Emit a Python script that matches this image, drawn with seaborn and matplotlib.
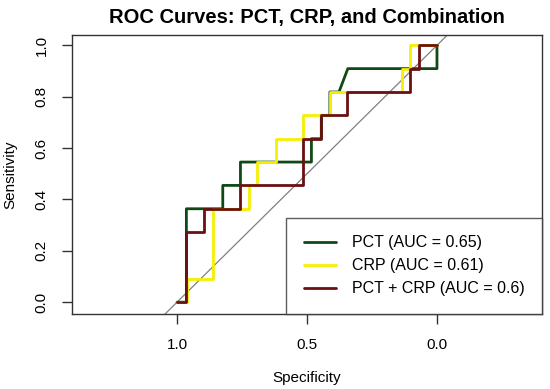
import numpy as np
import pandas as pd
import matplotlib
matplotlib.use("Agg")
import matplotlib.pyplot as plt
import seaborn as sns

# ROC coordinates (specificity, sensitivity in elevenths)
pct_spec = [1.0, 0.964, 0.964, 0.824, 0.824, 0.756, 0.756, 0.483, 0.483, 0.445, 0.445,
            0.412, 0.412, 0.377, 0.343, 0.0, 0.0]
pct_sens11 = [0, 0, 4, 4, 5, 5, 6, 6, 7, 7, 8, 8, 9, 9, 10, 10, 11]

crp_spec = [1.0, 0.96, 0.96, 0.862, 0.862, 0.722, 0.722, 0.692, 0.692, 0.619, 0.619,
            0.515, 0.515, 0.412, 0.412, 0.136, 0.136, 0.104, 0.104, 0.0]
crp_sens11 = [0, 0, 1, 1, 4, 4, 5, 5, 6, 6, 7, 7, 8, 8, 9, 9, 10, 10, 11, 11]

comb_spec = [1.0, 0.964, 0.964, 0.895, 0.895, 0.756, 0.756, 0.515, 0.515, 0.445, 0.445,
             0.345, 0.345, 0.104, 0.104, 0.07, 0.07, 0.0]
comb_sens11 = [0, 0, 3, 3, 4, 4, 5, 5, 7, 7, 8, 8, 9, 9, 10, 10, 11, 11]

labels = ["PCT (AUC = 0.65)", "CRP (AUC = 0.61)", "PCT + CRP (AUC = 0.6)"]
colors = ["#0f4a14", "#f5f000", "#6a1010"]

frames = []
for lab, sp, se in zip(labels, [pct_spec, crp_spec, comb_spec],
                       [pct_sens11, crp_sens11, comb_sens11]):
    frames.append(pd.DataFrame({"spec": sp, "sens": np.array(se) / 11.0, "model": lab}))
df = pd.concat(frames, ignore_index=True)

sns.set_style("white")
plt.rcParams['font.family'] = ['Liberation Sans', 'DejaVu Sans']
plt.rcParams['text.color'] = 'black'
plt.rcParams['axes.labelcolor'] = 'black'
plt.rcParams['xtick.color'] = 'black'
plt.rcParams['ytick.color'] = 'black'

fig = plt.figure(figsize=(5.5, 3.89), dpi=100)
ax = fig.add_axes([72 / 550, 1 - 314 / 389, 470 / 550, 279 / 389])

ax.axline((1, 0), (0, 1), color="#808080", lw=0.9, zorder=1)
sns.lineplot(data=df, x="spec", y="sens", hue="model", palette=colors,
             sort=False, estimator=None, lw=2.0, ax=ax, zorder=2)

ax.set_xlim(1.404, -0.404)
ax.set_ylim(-0.046, 1.04)
ax.set_xticks([1.0, 0.5, 0.0])
ax.set_xticklabels(["1.0", "0.5", "0.0"])
ax.set_yticks([0.0, 0.2, 0.4, 0.6, 0.8, 1.0])
ax.set_yticklabels(["0.0", "0.2", "0.4", "0.6", "0.8", "1.0"], rotation=90, va="center")
ax.tick_params(direction="out", length=7, width=1, color="#333333",
               labelsize=11, pad=10, left=True, bottom=True)
for s in ax.spines.values():
    s.set_color("#333333")
    s.set_linewidth(1)

ax.set_xlabel("Specificity", fontsize=11, labelpad=14)
ax.set_ylabel("Sensitivity", fontsize=11, labelpad=12)
ax.set_title("ROC Curves: PCT, CRP, and Combination", fontsize=14.5,
             fontweight="bold", pad=9)

handles, labs = ax.get_legend_handles_labels()
leg = ax.legend(handles, labs, loc="lower right", borderaxespad=0, fontsize=11.5,
                frameon=True, fancybox=False, edgecolor="#333333",
                borderpad=1.1, labelspacing=0.5, handlelength=2.0,
                handletextpad=1.0)
leg.get_frame().set_linewidth(1)

fig.savefig("out.png", dpi=100)
